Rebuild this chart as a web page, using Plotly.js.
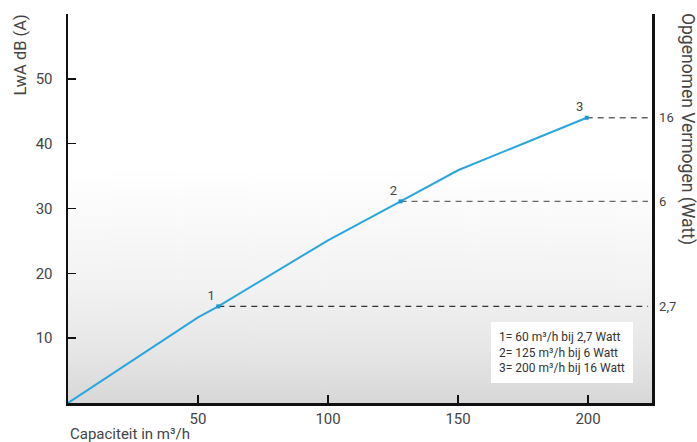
<!DOCTYPE html>
<html>
<head>
<meta charset="utf-8">
<script src="https://cdn.plot.ly/plotly-3.0.1.min.js"></script>
<style>html,body{margin:0;padding:0;background:#fff;}#chart{width:697px;height:442px;}</style>
</head>
<body>
<div id="chart"></div>
<script>
// ---- data ----
const capacity = [0, 50, 57.8, 80, 100, 127.9, 150, 199.5];
const soundDb = [0, 13.2, 14.9, 20.3, 25.1, 31.1, 35.9, 44.0];
const pointCapacity = [57.8, 127.9, 199.5];
const pointDb = [14.9, 31.1, 44.0];
const pointLabels = ['1', '2', '3'];
const wattLabels = ['2,7', '6', '16'];
const xTicks = [50, 100, 150, 200];
const yTicks = [10, 20, 30, 40, 50];
const legendLines = ['1= 60 m³/h bij 2,7 Watt', '2= 125 m³/h bij 6 Watt', '3= 200 m³/h bij 16 Watt'];

const X_MAX = 224.6, Y_MAX = 60;
const FONT = 'Roboto, "DejaVu Sans", sans-serif';
const BLUE = '#2aa6de';

// background gradient image
const cv = document.createElement('canvas');
cv.width = 8; cv.height = 389;
const ctx = cv.getContext('2d');
const g = ctx.createLinearGradient(0, 0, 0, 389);
g.addColorStop(0, '#ffffff');
g.addColorStop(0.4, '#ffffff');
g.addColorStop(0.7, '#f2f2f2');
g.addColorStop(0.88, '#e5e5e5');
g.addColorStop(1, '#d7d7d7');
ctx.fillStyle = g; ctx.fillRect(0, 0, 8, 389);
const bg = cv.toDataURL('image/png');

const traces = [];
// dashed reference lines to right axis
pointCapacity.forEach((px, i) => {
  traces.push({
    x: [px, X_MAX - 1.5], y: [pointDb[i], pointDb[i]],
    mode: 'lines', line: {color: i === 0 ? '#333' : '#666', width: 1.3, dash: '6px,5px'},
    hoverinfo: 'skip', showlegend: false
  });
});
traces.push({
  x: capacity, y: soundDb, mode: 'lines',
  line: {color: BLUE, width: 2}, showlegend: false
});
traces.push({
  x: pointCapacity, y: pointDb, mode: 'markers+text',
  marker: {color: '#1b95cf', size: 4, symbol: 'square'},
  text: pointLabels, textposition: 'top left',
  textfont: {family: FONT, size: 13, color: '#444'},
  showlegend: false
});
// invisible trace to activate right axis
traces.push({x: [0], y: [0], yaxis: 'y2', mode: 'markers', marker: {opacity: 0}, hoverinfo: 'skip', showlegend: false});

const layout = {
  width: 697, height: 442,
  margin: {l: 68, r: 45, t: 14, b: 39},
  paper_bgcolor: '#ffffff',
  plot_bgcolor: 'rgba(0,0,0,0)',
  font: {family: FONT, color: '#444'},
  showlegend: false,
  images: [{source: bg, xref: 'paper', yref: 'paper', x: 0, y: 1, sizex: 1, sizey: 1,
            sizing: 'stretch', xanchor: 'left', yanchor: 'top', layer: 'below'}],
  xaxis: {
    range: [0, X_MAX], tickvals: xTicks, ticks: 'inside', ticklen: 8, tickwidth: 1.5, tickcolor: '#111',
    showline: true, linecolor: '#111', linewidth: 2.5, showgrid: false, zeroline: false,
    tickfont: {family: FONT, size: 15, color: '#444'}, fixedrange: true
  },
  yaxis: {
    range: [0, Y_MAX], tickvals: yTicks, ticks: 'inside', ticklen: 8, tickwidth: 1.5, tickcolor: '#111',
    showline: true, linecolor: '#111', linewidth: 2.5, showgrid: false, zeroline: false,
    ticklabelstandoff: 10,
    tickfont: {family: FONT, size: 15, color: '#444'}, fixedrange: true
  },
  yaxis2: {
    range: [0, Y_MAX], overlaying: 'y', side: 'right', tickvals: pointDb, ticktext: wattLabels,
    ticks: '', showline: true, linecolor: '#111', linewidth: 2.5, showgrid: false, zeroline: false,
    ticklabelstandoff: 2,
    tickfont: {family: FONT, size: 13, color: '#444'}, fixedrange: true
  },
  annotations: [
    {text: 'LwA dB (A)', textangle: -90, xref: 'paper', yref: 'paper', x: 0, y: 1,
     xanchor: 'center', yanchor: 'top', xshift: -48, yshift: 1, showarrow: false,
     font: {family: FONT, size: 16.5, color: '#444'}},
    {text: 'Opgenomen Vermogen (Watt)', textangle: 90, xref: 'paper', yref: 'paper', x: 1, y: 1,
     xanchor: 'center', yanchor: 'top', xshift: 36, yshift: 3, showarrow: false,
     font: {family: FONT, size: 17.5, color: '#444'}},
    {text: 'Capaciteit in m³/h', xref: 'paper', yref: 'paper', x: 0, y: 0,
     xanchor: 'left', yanchor: 'middle', yshift: -31, showarrow: false,
     font: {family: FONT, size: 15, color: '#444'}},
    {text: legendLines.join('<br>'), align: 'left', xref: 'paper', yref: 'paper',
     x: 0.967, y: 0.051, xanchor: 'right', yanchor: 'bottom', showarrow: false,
     bgcolor: '#ffffff', borderpad: 8, borderwidth: 0,
     font: {family: FONT, size: 12, color: '#333'}}
  ]
};

Plotly.newPlot('chart', traces, layout, {displayModeBar: false, staticPlot: true});
</script>
</body>
</html>
